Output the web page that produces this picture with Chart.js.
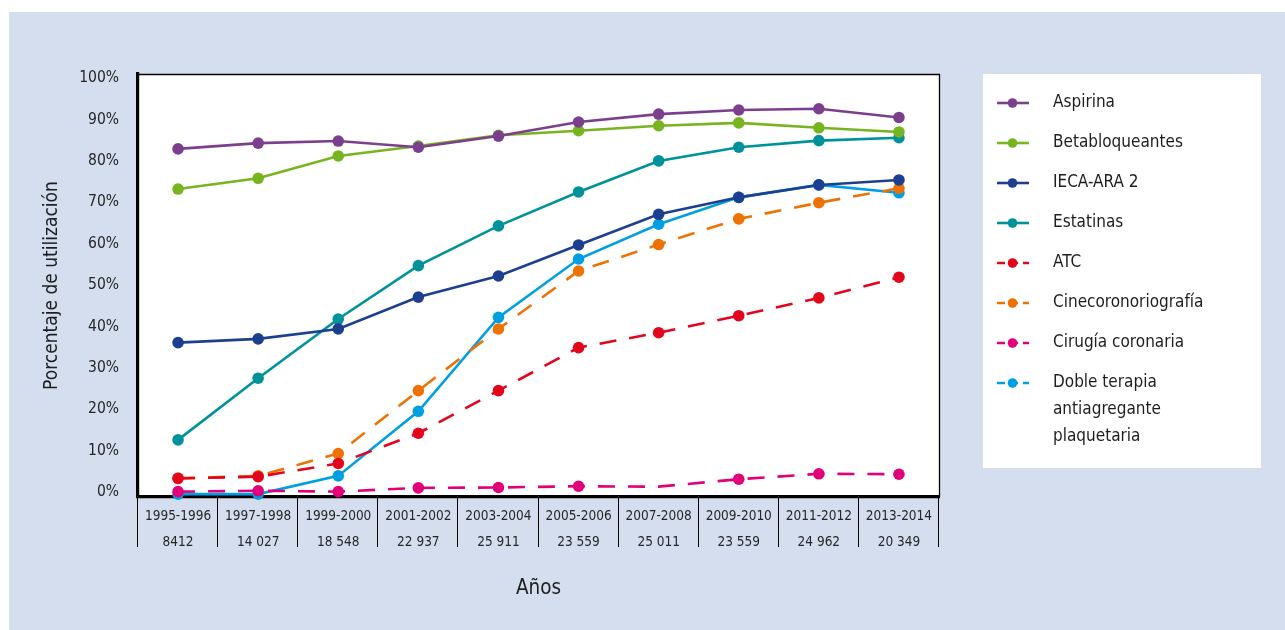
<!DOCTYPE html>
<html lang="es">
<head>
<meta charset="utf-8">
<title>Porcentaje de utilización por periodo</title>
<script src="https://cdn.jsdelivr.net/npm/chart.js@4/dist/chart.umd.min.js"></script>
<style>
  html, body { margin: 0; padding: 0; background: #ffffff; }
  #wrap { width: 1285px; height: 630px; position: relative; }
</style>
</head>
<body>
<div id="wrap"><canvas id="grafico" width="1285" height="630"></canvas></div>
<script>
// Periodos y número de pacientes por periodo (etiquetas del eje X)
const periodos = ['1995-1996', '1997-1998', '1999-2000', '2001-2002', '2003-2004',
                  '2005-2006', '2007-2008', '2009-2010', '2011-2012', '2013-2014'];
const pacientes = ['8412', '14 027', '18 548', '22 937', '25 911',
                   '23 559', '25 011', '23 559', '24 962', '20 349'];

// Marcas del eje Y (%)
const marcasY = [0, 10, 20, 30, 40, 50, 60, 70, 80, 90, 100];

// Porcentaje de utilización por tratamiento
const aspirina        = [82.9, 84.3, 84.8, 83.3, 86.0, 89.4, 91.3, 92.3, 92.6, 90.5];
const betabloqueantes = [73.2, 75.8, 81.2, 83.6, 86.2, 87.3, 88.5, 89.2, 88.0, 87.0];
const iecaAra2        = [36.1, 37.0, 39.4, 47.1, 52.2, 59.7, 67.1, 71.2, 74.2, 75.4];
const estatinas       = [12.6, 27.5, 41.8, 54.7, 64.3, 72.5, 80.0, 83.3, 84.9, 85.6];
const atc             = [3.3, 3.7, 6.9, 14.2, 24.5, 34.9, 38.5, 42.6, 46.9, 51.9];
const cinecoro        = [3.3, 3.9, 9.3, 24.5, 39.4, 53.4, 59.8, 66.0, 69.9, 73.4];
const cirugia         = [0.1, 0.3, 0.1, 1.0, 1.1, 1.4, 1.3, 3.1, 4.4, 4.3];
const dobleTerapia    = [-0.5, -0.5, 3.9, 19.5, 42.2, 56.3, 64.7, 71.2, 74.2, 72.3];

const FUENTE = "'Liberation Sans Narrow', 'DejaVu Sans Condensed', 'Noto Sans', sans-serif";
const DISCONTINUA = [17, 13];

function serie(label, data, color, dash, legendDash, radios) {
  return {
    label: label,
    data: data,
    borderColor: color,
    backgroundColor: color,
    pointBackgroundColor: color,
    pointBorderColor: color,
    pointBorderWidth: 0,
    pointRadius: radios || 5.8,
    pointHoverRadius: 5.8,
    borderWidth: 2.6,
    borderDash: dash,
    legendDash: legendDash,
    tension: 0,
    fill: false,
    clip: false
  };
}

const conjuntos = [
  serie('Aspirina', aspirina, '#7B3F8E', [], []),
  serie('Betabloqueantes', betabloqueantes, '#77B41F', [], []),
  serie('IECA-ARA 2', iecaAra2, '#1D3F8F', [], []),
  serie('Estatinas', estatinas, '#00929A', [], []),
  serie('ATC', atc, '#E3051B', DISCONTINUA, [8, 5]),
  serie('Cinecoronoriografía', cinecoro, '#EE7203', DISCONTINUA, [8, 5]),
  serie('Cirugía coronaria', cirugia, '#E2007A', DISCONTINUA, [8, 5],
        [5.8, 5.8, 5.8, 5.8, 5.8, 5.8, 0, 5.8, 5.8, 5.8]),
  serie(['Doble terapia', 'antiagregante', 'plaquetaria'], dobleTerapia, '#009FE3', [], [8, 5])
];

// Fondo del panel y del área de trazado
const fondo = {
  id: 'fondo',
  beforeDraw(chart) {
    const ctx = chart.ctx;
    const a = chart.chartArea;
    ctx.save();
    ctx.fillStyle = '#ffffff';
    ctx.fillRect(0, 0, chart.width, chart.height);
    ctx.fillStyle = '#D4DEEE';
    ctx.fillRect(9, 12, chart.width - 9, chart.height - 12);
    ctx.fillStyle = '#ffffff';
    ctx.fillRect(a.left, a.top, a.right - a.left, a.bottom - a.top);
    ctx.restore();
  },
  afterDraw(chart) {
    const ctx = chart.ctx;
    const a = chart.chartArea;
    const x = chart.scales.x;
    ctx.save();
    // marco fino superior y derecho
    ctx.strokeStyle = '#000000';
    ctx.lineWidth = 1.3;
    ctx.beginPath();
    ctx.moveTo(a.left, a.top + 0.5);
    ctx.lineTo(a.right + 0.5, a.top + 0.5);
    ctx.lineTo(a.right + 0.5, a.bottom);
    ctx.stroke();
    // separadores de la tabla de periodos
    ctx.lineWidth = 1;
    for (let i = 0; i <= periodos.length; i++) {
      const px = Math.round(x.getPixelForValue(i - 0.5)) - 0.5;
      ctx.beginPath();
      ctx.moveTo(px, a.bottom);
      ctx.lineTo(px, a.bottom + 50);
      ctx.stroke();
    }
    ctx.restore();
  }
};

// Leyenda en recuadro blanco a la derecha
const leyenda = {
  id: 'leyenda',
  afterDraw(chart) {
    const ctx = chart.ctx;
    const caja = { x: 983, y: 74, w: 278, h: 394 };
    ctx.save();
    ctx.fillStyle = '#ffffff';
    ctx.fillRect(caja.x, caja.y, caja.w, caja.h);
    ctx.font = '17px ' + FUENTE;
    ctx.textBaseline = 'middle';
    ctx.textAlign = 'left';
    chart.data.datasets.forEach((ds, i) => {
      const cy = 103 + i * 40;
      ctx.save();
      ctx.beginPath();
      ctx.rect(997, cy - 5, 32, 10);
      ctx.clip();
      ctx.strokeStyle = ds.borderColor;
      ctx.lineWidth = 2.6;
      ctx.setLineDash(ds.legendDash);
      ctx.beginPath();
      ctx.moveTo(997, cy);
      ctx.lineTo(1029, cy);
      ctx.stroke();
      ctx.restore();
      ctx.fillStyle = ds.borderColor;
      ctx.beginPath();
      ctx.arc(1012.5, cy, 4.8, 0, Math.PI * 2);
      ctx.fill();
      ctx.fillStyle = '#1e1e1e';
      const lineas = Array.isArray(ds.label) ? ds.label : [ds.label];
      lineas.forEach((t, k) => ctx.fillText(t, 1053, cy + k * 27));
    });
    ctx.restore();
  }
};

new Chart(document.getElementById('grafico'), {
  type: 'line',
  data: {
    labels: periodos.map((p, i) => [p, pacientes[i]]),
    datasets: conjuntos
  },
  plugins: [fondo, leyenda],
  options: {
    responsive: false,
    animation: false,
    events: [],
    layout: { padding: { left: 0, top: 74, right: 346, bottom: 0 } },
    plugins: {
      legend: { display: false },
      tooltip: { enabled: false },
      title: { display: false }
    },
    scales: {
      x: {
        type: 'category',
        offset: true,
        grid: { display: false, drawTicks: false },
        border: { display: true, color: '#000000', width: 3.2 },
        ticks: {
          padding: 6,
          color: '#262626',
          maxRotation: 0,
          autoSkip: false,
          font: { family: FUENTE, size: 13.5, lineHeight: 26 / 13.5 }
        },
        title: {
          display: true,
          text: 'Años',
          color: '#1e1e1e',
          font: { family: FUENTE, size: 20.5, lineHeight: 1.2 },
          padding: { top: 0, bottom: 29 }
        },
        afterFit(scale) { scale.height = 133; }
      },
      y: {
        min: -1.2,
        max: 101,
        grid: { display: false, drawTicks: false },
        border: { display: true, color: '#000000', width: 3.2 },
        afterBuildTicks(scale) { scale.ticks = marcasY.map(v => ({ value: v })); },
        ticks: {
          padding: 19,
          color: '#262626',
          font: { family: FUENTE, size: 15.5 },
          callback: v => v + '%'
        },
        title: {
          display: true,
          text: 'Porcentaje de utilización',
          color: '#1e1e1e',
          font: { family: FUENTE, size: 19, lineHeight: 1.2 },
          padding: { top: 41, bottom: 0 }
        },
        afterFit(scale) { scale.width = 138; }
      }
    }
  }
});
</script>
</body>
</html>
